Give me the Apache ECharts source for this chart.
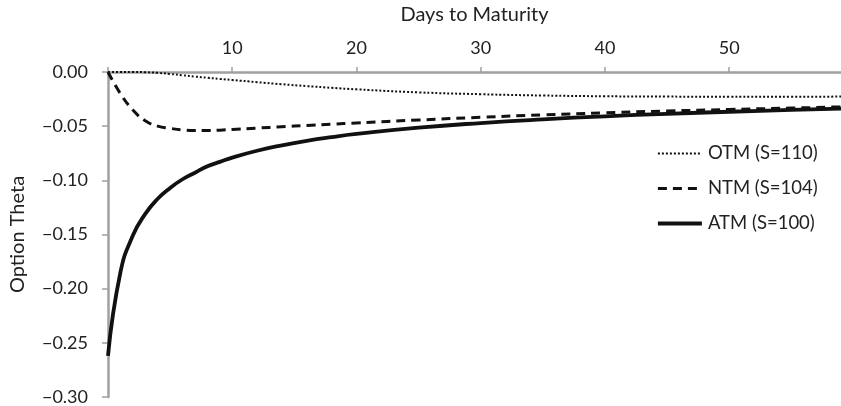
<!DOCTYPE html>
<html>
<head>
<meta charset="utf-8">
<script src="https://cdn.jsdelivr.net/npm/echarts@6/dist/echarts.min.js"></script>
<style>
  html, body { margin: 0; padding: 0; background: #fff; }
  #chart { width: 841px; height: 406px; }
</style>
</head>
<body>
<div id="chart"></div>
<script>
// days to maturity (x positions of sampled points)
var days = [0, 1, 2, 3, 4, 5, 6, 7, 8, 9, 10, 12, 14, 16, 18, 20, 25, 30, 35, 40, 45, 50, 55, 59];

// option theta
var otmTheta = [0, 0, 0, -0.0002, -0.0008, -0.0018, -0.003, -0.0042, -0.0053, -0.0064, -0.0074,
  -0.0094, -0.0113, -0.013, -0.0146, -0.016, -0.0188, -0.0205, -0.0217, -0.0224, -0.0227, -0.0228, -0.0228, -0.0227];
var ntmTheta = [0, -0.020, -0.035, -0.045, -0.050, -0.052, -0.0535, -0.054, -0.054, -0.0537, -0.053,
  -0.0518, -0.0505, -0.0493, -0.0482, -0.047, -0.0443, -0.0418, -0.0396, -0.0377, -0.036, -0.0346, -0.0333, -0.0322];
var atmTheta = [-0.262, -0.185, -0.151, -0.131, -0.117, -0.107, -0.099, -0.093, -0.087, -0.083, -0.079,
  -0.0727, -0.0677, -0.0635, -0.0601, -0.0572, -0.0514, -0.0471, -0.0437, -0.0409, -0.0386, -0.0367, -0.035, -0.0338];

var seriesNames = ["OTM (S=110)", "NTM (S=104)", "ATM (S=100)"];
var xTicks = [10, 20, 30, 40, 50];

function pairs(vals) {
  return days.map(function(d, i) { return [d, vals[i]]; });
}

var font = "Lato, 'Open Sans', sans-serif";
var axisGray = "#a0a0a0";
var ink = "#111";

var styles = [
  { color: ink, width: 2, type: [2, 2] },
  { color: ink, width: 3, type: [9, 6] },
  { color: ink, width: 3.8 }
];

var chart = echarts.init(document.getElementById("chart"), null, { renderer: "canvas" });

chart.setOption({
  animation: false,
  backgroundColor: "#fff",
  textStyle: { fontFamily: font },
  grid: {
    left: 103,
    top: 70,
    right: 0,
    bottom: 8
  },
  legend: {
    orient: "vertical",
    left: 651,
    top: 139,
    itemWidth: 44,
    itemHeight: 14,
    itemGap: 16,
    data: seriesNames.map(function(n, i) {
      return { name: n, lineStyle: styles[i] };
    }),
    itemStyle: { opacity: 0 },
    textStyle: { fontFamily: font, fontSize: 18.5, color: "#222", padding: [0, 0, 0, 1] }
  },
  xAxis: {
    type: "value",
    position: "top",
    min: 0,
    max: 59,
    interval: 10,
    name: "Days to Maturity",
    nameLocation: "middle",
    nameGap: 47,
    nameTextStyle: { fontFamily: font, fontSize: 20, color: "#222" },
    axisLine: { show: true, onZero: false, lineStyle: { color: axisGray, width: 2.5 } },
    axisTick: { show: true, length: 5, lineStyle: { color: axisGray, width: 1.5 } },
    splitLine: { show: false },
    axisLabel: {
      margin: 15,
      fontSize: 18,
      color: "#222",
      showMaxLabel: false,
      formatter: function(v) {
        return xTicks.indexOf(v) >= 0 ? String(v) : "";
      }
    }
  },
  yAxis: {
    type: "value",
    min: -0.3,
    max: 0,
    interval: 0.05,
    name: "Option Theta",
    nameLocation: "middle",
    nameGap: 80,
    nameTextStyle: { fontFamily: font, fontSize: 20, color: "#222" },
    axisLine: { show: true, lineStyle: { color: axisGray, width: 2.5 } },
    axisTick: { show: true, length: 6, lineStyle: { color: axisGray, width: 1.5 } },
    splitLine: { show: false },
    axisLabel: {
      margin: 20,
      fontSize: 18,
      color: "#222",
      formatter: function(v) {
        return v.toFixed(2).replace("-", "\u2212");
      }
    }
  },
  series: [
    {
      name: seriesNames[0],
      type: "line",
      smooth: true,
      showSymbol: false,
      symbol: "none",
      data: pairs(otmTheta),
      lineStyle: styles[0],
      itemStyle: { color: ink },
      z: 3
    },
    {
      name: seriesNames[1],
      type: "line",
      smooth: true,
      showSymbol: false,
      symbol: "none",
      data: pairs(ntmTheta),
      lineStyle: styles[1],
      itemStyle: { color: ink },
      z: 4
    },
    {
      name: seriesNames[2],
      type: "line",
      smooth: true,
      showSymbol: false,
      symbol: "none",
      data: pairs(atmTheta),
      lineStyle: styles[2],
      itemStyle: { color: ink },
      z: 2
    }
  ]
});
</script>
</body>
</html>
